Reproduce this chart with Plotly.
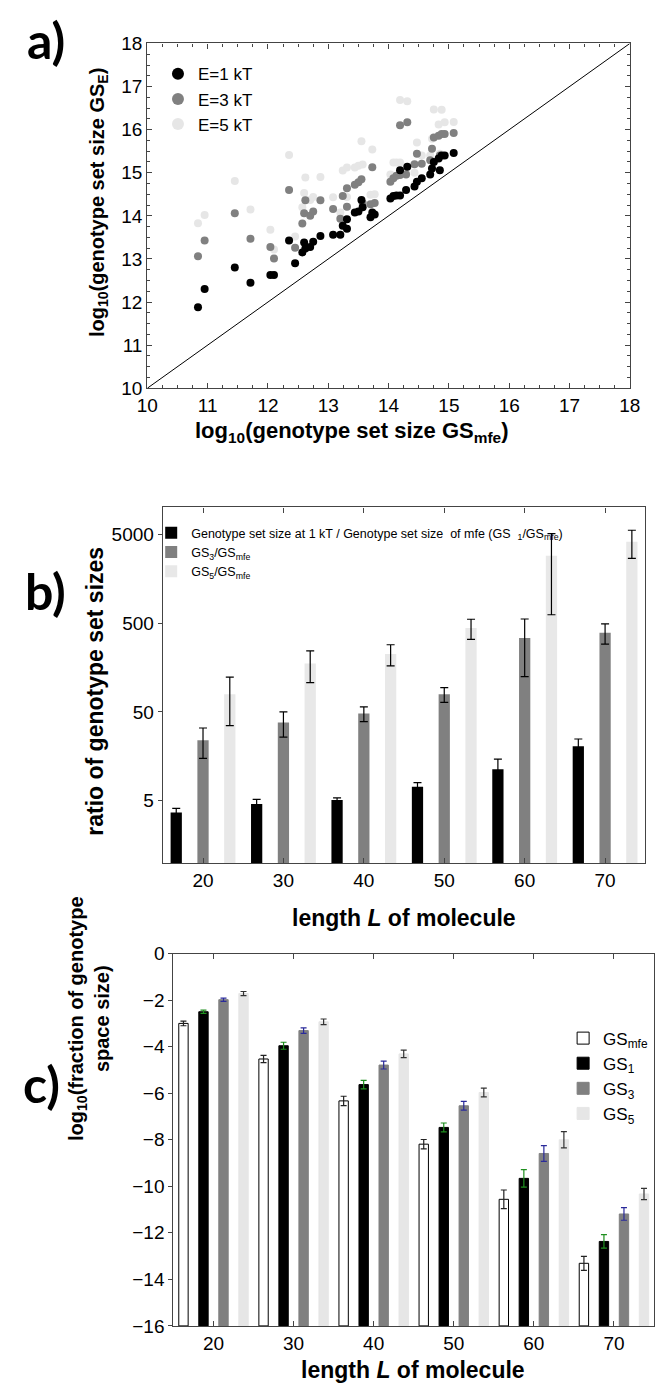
import plotly.graph_objects as go

W, H = 665, 1396

# ---------------- Panel a data ----------------
gs_mfe = [10.84, 10.95, 11.45, 11.71, 12.04, 12.10, 12.35, 12.45, 12.57, 12.60, 12.62,
          12.70, 12.75, 12.87, 13.08, 13.20, 13.24, 13.31, 13.31, 13.44, 13.50, 13.55,
          13.57, 13.70, 13.73, 13.77, 14.03, 14.08, 14.13, 14.19, 14.19, 14.29, 14.31,
          14.43, 14.47, 14.55, 14.69, 14.72, 14.75, 14.83, 14.85, 14.88, 14.93, 15.08]
gs_e1 = [11.88, 12.30, 12.80, 12.45, 12.63, 12.63, 13.43, 12.90, 13.15, 13.38, 13.24,
         13.28, 13.40, 13.53, 13.56, 13.56, 13.77, 13.92, 13.70, 14.08, 14.10, 14.37,
         14.20, 13.97, 14.08, 14.03, 14.40, 14.46, 14.47, 15.06, 14.47, 14.60, 15.14,
         14.68, 14.79, 14.87, 14.96, 15.10, 15.25, 15.33, 15.06, 15.40, 15.40, 15.46]
gs_e3 = [13.06, 13.43, 14.06, 13.47, 13.28, 13.01, 14.60, 13.26, 13.82, 14.06, 14.36,
         14.00, 14.10, 14.36, 14.16, 13.93, 14.46, 14.64, 14.21, 14.72, 14.78, 14.85,
         14.30, 14.27, 15.13, 14.30, 14.79, 14.87, 14.93, 16.10, 14.95, 14.96, 16.17,
         15.20, 15.44, 15.21, 15.29, 15.56, 15.82, 15.86, 15.40, 15.90, 15.90, 15.92]
gs_e5 = [13.83, 14.02, 14.81, 14.15, 13.68, 13.22, 15.41, 13.52, 14.20, 14.53, 14.89,
         14.37, 14.44, 14.90, 14.43, 14.08, 15.05, 15.12, 14.44, 15.12, 15.16, 15.73,
         15.19, 14.49, 15.54, 14.50, 14.96, 15.24, 15.24, 16.69, 15.24, 14.99, 16.66,
         15.00, 15.70, 15.40, 15.40, 15.79, 16.47, 16.12, 15.44, 16.46, 16.17, 16.18]
diag = [10, 18]

# ---------------- Panel b data ----------------
lengths = [20, 30, 40, 50, 60, 70]
ratio1 = [3.7, 4.6, 5.1, 7.2, 11.3, 20.5]
ratio1_err = [0.42, 0.6, 0.3, 0.8, 3.4, 4.3]
ratio3 = [24, 38, 48, 79, 340, 390]
ratio3_err = [9, 12, 9, 15, 215, 100]
ratio5 = [79, 175, 225, 440, 2850, 4100]
ratio5_err = [44, 68, 60, 112, 2230, 1430]

# ---------------- Panel c data ----------------
frac_mfe = [-3.0, -4.53, -6.33, -8.19, -10.56, -13.31]
frac_mfe_err = [0.1, 0.16, 0.2, 0.2, 0.4, 0.3]
frac_1 = [-2.5, -3.96, -5.63, -7.47, -9.66, -12.37]
frac_1_err = [0.07, 0.15, 0.18, 0.19, 0.38, 0.29]
frac_3 = [-1.98, -3.31, -4.79, -6.54, -8.59, -11.19]
frac_3_err = [0.07, 0.12, 0.17, 0.19, 0.34, 0.27]
frac_5 = [-1.72, -2.93, -4.31, -5.97, -8.0, -10.33]
frac_5_err = [0.09, 0.12, 0.16, 0.19, 0.35, 0.24]
c_floor = -16

FONT = "Liberation Sans, Arial, sans-serif"
BLACK, GRAY, LIGHT = "#000000", "#808080", "#e6e6e6"


def xd(a, b):
    return [a / W, b / W]


def yd(top, bottom):
    return [1 - bottom / H, 1 - top / H]


def px(x):
    return x / W


def py(y):
    return 1 - y / H


fig = go.Figure()

# ---- Panel a ----
fig.add_trace(go.Scatter(x=diag, y=diag, mode="lines", line=dict(color="black", width=1),
                         showlegend=False, xaxis="x", yaxis="y", hoverinfo="skip"))
for ys, col, name in [(gs_e5, LIGHT, "E=5 kT"), (gs_e3, GRAY, "E=3 kT"), (gs_e1, BLACK, "E=1 kT")]:
    fig.add_trace(go.Scatter(x=gs_mfe, y=ys, mode="markers", name=name,
                             marker=dict(color=col, size=8, line=dict(width=0)),
                             xaxis="x", yaxis="y", legend="legend"))

# ---- Panel b ----
bw_b = 1.4
for ys, err, col, name, off in [
    (ratio1, ratio1_err, BLACK,
     "Genotype set size at 1 kT / Genotype set size  of mfe (GS  <sub>1</sub>/GS<sub>mfe</sub>)", -3.33),
    (ratio3, ratio3_err, GRAY, "GS<sub>3</sub>/GS<sub>mfe</sub>", 0.0),
    (ratio5, ratio5_err, "#e8e8e8", "GS<sub>5</sub>/GS<sub>mfe</sub>", 3.33),
]:
    fig.add_trace(go.Bar(x=lengths, y=ys, name=name, marker=dict(color=col, line=dict(width=0)),
                         width=bw_b, offset=off - bw_b / 2,
                         error_y=dict(type="data", array=err, color="black", thickness=1.2, width=4),
                         xaxis="x2", yaxis="y2", legend="legend2"))

# ---- Panel c ----
bw_c = 1.17
for ys, err, col, ecol, name, off, lc in [
    (frac_mfe, frac_mfe_err, "white", "#222222", "GS<sub>mfe</sub>", -3.75, "black"),
    (frac_1, frac_1_err, BLACK, "#1f8f1f", "GS<sub>1</sub>", -1.25, BLACK),
    (frac_3, frac_3_err, GRAY, "#2a2a9a", "GS<sub>3</sub>", 1.25, GRAY),
    (frac_5, frac_5_err, LIGHT, "#333333", "GS<sub>5</sub>", 3.75, LIGHT),
]:
    fig.add_trace(go.Bar(x=lengths, y=[v - c_floor for v in ys], base=c_floor, name=name,
                         marker=dict(color=col, line=dict(color=lc, width=1)),
                         width=bw_c, offset=off - bw_c / 2,
                         error_y=dict(type="data", array=err, color=ecol, thickness=1.2, width=3),
                         xaxis="x3", yaxis="y3", legend="legend3"))

base_ax = dict(showline=True, linecolor="#444444", linewidth=1.3,
               showgrid=False, zeroline=False,
               tickfont=dict(family=FONT, size=19, color="black"), tickcolor="#444444")
minor = dict(dtick=0.25, ticks="inside", ticklen=3, tickcolor="#444444")

fig.update_layout(
    width=W, height=H, margin=dict(l=0, r=0, t=0, b=0),
    paper_bgcolor="white", plot_bgcolor="white", barmode="overlay",
    font=dict(family=FONT, color="black"),
    xaxis=dict(domain=xd(141, 640), anchor="y", range=[10, 18], dtick=1, ticks="inside",
               ticklen=5, mirror="ticks", minor=minor, **base_ax),
    yaxis=dict(domain=yd(34, 384), anchor="x", range=[10, 18], dtick=1, ticks="inside",
               ticklen=5, mirror="ticks", minor=minor, **base_ax),
    xaxis2=dict(domain=xd(157, 656), anchor="y2", range=[15, 75], tickvals=lengths,
                ticks="inside", ticklen=5, mirror="ticks", **base_ax),
    yaxis2=dict(domain=yd(505, 866), anchor="x2", type="log", range=[0, 4],
                tickvals=[5, 50, 500, 5000], ticktext=["5", "50", "500", "5000"],
                ticks="outside", ticklen=4, mirror=True, **base_ax),
    xaxis3=dict(domain=xd(168, 665), anchor="y3", range=[15, 75], tickvals=lengths,
                ticks="inside", ticklen=5, mirror="ticks", **base_ax),
    yaxis3=dict(domain=yd(958, 1336), anchor="x3", range=[-16, 0], dtick=2,
                ticks="outside", ticklen=4, mirror=True, **base_ax),
    legend=dict(x=px(152), y=py(47), xanchor="left", yanchor="top", bgcolor="rgba(0,0,0,0)",
                traceorder="reversed", font=dict(family=FONT, size=17), itemsizing="constant"),
    legend2=dict(x=px(145), y=py(516), xanchor="left", yanchor="top", bgcolor="rgba(0,0,0,0)",
                 font=dict(family=FONT, size=12.5), tracegroupgap=0),
    legend3=dict(x=px(571), y=py(1026), xanchor="left", yanchor="top", bgcolor="rgba(0,0,0,0)",
                 font=dict(family=FONT, size=17)),
)

ann = []
label_font = dict(family="Lato, Open Sans, sans-serif", size=50, color="black", weight="bold")
for txt, x, y in [("a)", 36, 30), ("b)", 36, 590), ("c)", 32, 1090)]:
    ann.append(dict(text="<b>" + txt + "</b>", x=px(x), y=py(y), xref="paper", yref="paper",
                    showarrow=False, font=label_font, xanchor="center", yanchor="middle"))

tfont_ay = dict(family=FONT, size=20, color="black")
tfont_ax = dict(family=FONT, size=22, color="black")
tfont_b = dict(family=FONT, size=23, color="black")
tfont_c = dict(family=FONT, size=20, color="black")
ann += [
    dict(text="<b>log<sub>10</sub>(genotype set size GS<sub>mfe</sub>)</b>", x=px(352), y=py(428),
         font=tfont_ax),
    dict(text="<b>log<sub>10</sub>(genotype set size GS<sub>E</sub>)</b>", x=px(90), y=py(196),
         font=tfont_ay, textangle=-90),
    dict(text="<b>length <i>L</i> of molecule</b>", x=px(406), y=py(922), font=tfont_b),
    dict(text="<b>ratio of genotype set sizes</b>", x=px(86), y=py(692), font=tfont_b, textangle=-90),
    dict(text="<b>length <i>L</i> of molecule</b>", x=px(416), y=py(1381), font=tfont_b),
    dict(text="<b>log<sub>10</sub>(fraction of genotype<br>space size)</b>", x=px(80), y=py(1024),
         font=tfont_c, textangle=-90),
]
for a in ann[3:]:
    a.update(xref="paper", yref="paper", showarrow=False, xanchor="center", yanchor="middle")
fig.update_layout(annotations=ann)

fig.write_html("out.html")
